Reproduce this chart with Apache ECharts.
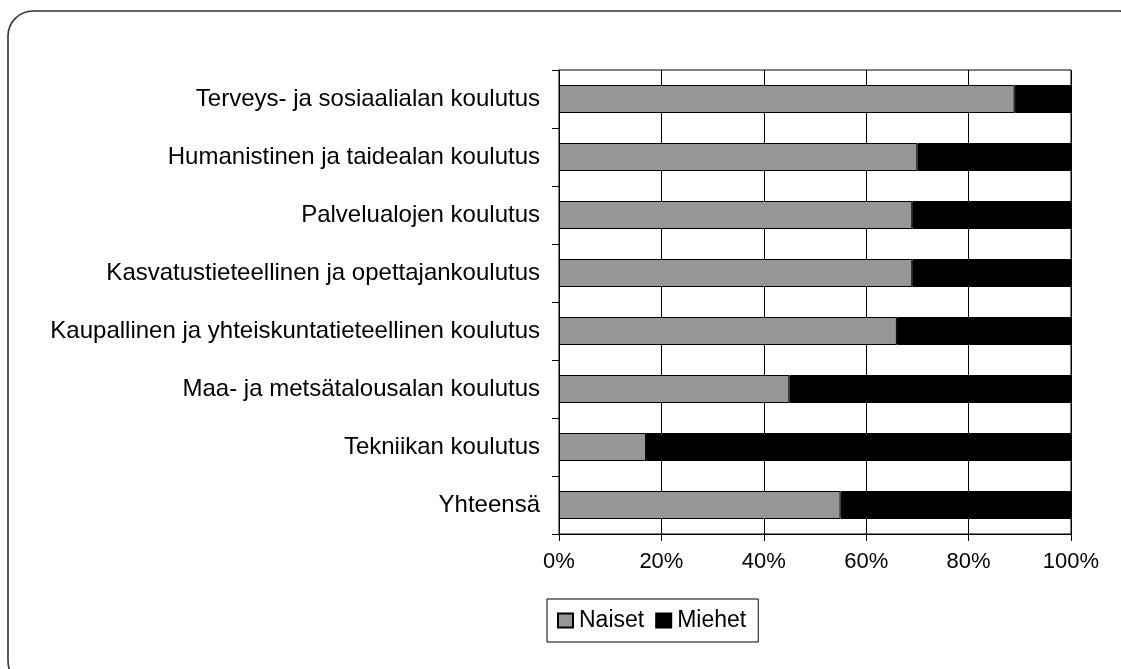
<!DOCTYPE html>
<html>
<head>
<meta charset="utf-8">
<script src="https://cdn.jsdelivr.net/npm/echarts@6/dist/echarts.min.js"></script>
<style>
  html, body { margin: 0; padding: 0; background: #fff; }
  #chart { width: 1121px; height: 669px; }
</style>
</head>
<body>
<div id="chart"></div>
<script>
var categories = [
    'Terveys- ja sosiaalialan koulutus',
    'Humanistinen ja taidealan koulutus',
    'Palvelualojen koulutus',
    'Kasvatustieteellinen ja opettajankoulutus',
    'Kaupallinen ja yhteiskuntatieteellinen koulutus',
    'Maa- ja metsätalousalan koulutus',
    'Tekniikan koulutus',
    'Yhteensä'
];
var naiset = [89, 70, 69, 69, 66, 45, 17, 55];
var miehet = [11, 30, 31, 31, 34, 55, 83, 45];
var xTicks = [0, 20, 40, 60, 80, 100];

var chart = echarts.init(document.getElementById('chart'));

var font = 'Liberation Sans, Arial, sans-serif';

var option = {
    animation: false,
    textStyle: { fontFamily: font },
    graphic: [{
        type: 'rect',
        shape: { x: 8, y: 11, width: 1135, height: 675, r: 25 },
        style: { fill: 'none', stroke: '#333', lineWidth: 1.6 },
        silent: true
    }],
    grid: {
        left: 559,
        right: 50,
        top: 70,
        bottom: 135,
        show: true,
        borderColor: '#000',
        borderWidth: 1
    },
    legend: {
        data: ['Naiset', 'Miehet'],
        left: 547,
        top: 599,
        orient: 'horizontal',
        padding: [10, 12, 10, 10],
        itemGap: 11,
        itemWidth: 15,
        itemHeight: 14,
        icon: 'rect',
        borderColor: '#000',
        borderWidth: 1,
        textStyle: { fontSize: 23, color: '#000', fontFamily: font, padding: [0, 0, 0, 1] }
    },
    xAxis: {
        type: 'value',
        min: 0,
        max: 100,
        interval: 20,
        axisLine: { show: true, lineStyle: { color: '#000', width: 1 } },
        axisTick: { show: true, length: 7, lineStyle: { color: '#000' } },
        axisLabel: {
            margin: 17,
            fontSize: 22,
            color: '#000',
            fontFamily: font,
            formatter: function (v) { return xTicks.indexOf(v) >= 0 ? v + '%' : ''; }
        },
        splitLine: { show: true, lineStyle: { color: '#000', width: 1 } }
    },
    yAxis: {
        type: 'category',
        data: categories,
        inverse: true,
        axisLine: { show: true, lineStyle: { color: '#000', width: 1 } },
        axisTick: { show: true, length: 7, interval: 0, lineStyle: { color: '#000' } },
        axisLabel: { margin: 19, fontSize: 24, color: '#000', fontFamily: font, interval: 0 }
    },
    series: [{
        name: 'Naiset',
        type: 'bar',
        stack: 'total',
        data: naiset,
        barWidth: 28,
        itemStyle: { color: '#969696', borderColor: '#000', borderWidth: 1 }
    }, {
        name: 'Miehet',
        type: 'bar',
        stack: 'total',
        data: miehet,
        barWidth: 28,
        itemStyle: { color: '#000', borderColor: '#000', borderWidth: 1 }
    }]
};

chart.setOption(option);
</script>
</body>
</html>
